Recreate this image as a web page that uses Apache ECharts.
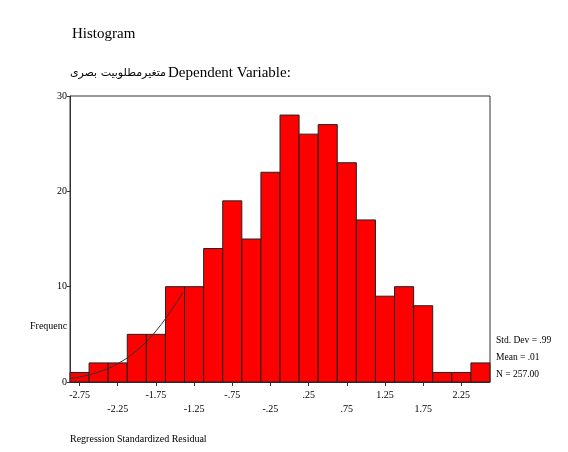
<!DOCTYPE html>
<html>
<head>
<meta charset="utf-8">
<script src="https://cdn.jsdelivr.net/npm/echarts@6/dist/echarts.min.js"></script>
<style>html,body{margin:0;padding:0;background:#fff;}#c{width:568px;height:452px;}</style>
</head>
<body>
<div id="c"></div>
<script>
const binWidth = 0.25;
const binCenters = [-2.75,-2.5,-2.25,-2.0,-1.75,-1.5,-1.25,-1.0,-0.75,-0.5,-0.25,0,0.25,0.5,0.75,1.0,1.25,1.5,1.75,2.0,2.25,2.5];
const frequencies = [1,2,2,5,5,10,10,14,19,15,22,28,26,27,23,17,9,10,8,1,1,2];
const tickValues = [-2.75,-2.25,-1.75,-1.25,-0.75,-0.25,0.25,0.75,1.25,1.75,2.25];
const tickLabels = ['-2.75','-2.25','-1.75','-1.25','-.75','-.25','.25','.75','1.25','1.75','2.25'];
const yTicks = [0,10,20,30];
const curveX = [-2.875,-2.75,-2.5,-2.25,-2.0,-1.75,-1.5,-1.4];
const curveY = [0.37,0.53,1.04,1.92,3.30,5.34,8.09,9.38];
const statsLines = ['Std. Dev = .99','Mean = .01','N = 257.00'];

const serif = '"Liberation Serif","DejaVu Serif",serif';
const chart = echarts.init(document.getElementById('c'), null, {renderer:'canvas'});
const barData = binCenters.map((x,i)=>[x, frequencies[i]]);
const curveData = curveX.map((x,i)=>[x, curveY[i]]);

chart.setOption({
  backgroundColor:'#fff',
  animation:false,
  graphic:[
    {type:'text', left:72, top:27, z:10, style:{text:'Histogram', font:'15px '+serif, fill:'#000'}},
    {type:'text', left:168, top:66, z:10, style:{text:'Dependent Variable:', font:'15px '+serif, fill:'#000'}},
    {type:'text', right:568-166, top:68, z:10, style:{text:'متغیرمطلوبیت بصری', font:'11px "DejaVu Sans",sans-serif', fill:'#000', align:'right'}},
    {type:'text', left:30, top:321, z:10, style:{text:'Frequency', font:'10px '+serif, fill:'#000', width:40, overflow:'truncate', ellipsis:''}},
    {type:'text', left:496, top:332, z:10, style:{text:statsLines.join('\n'), font:'9.5px '+serif, fill:'#000', lineHeight:17}},
    {type:'text', left:70, top:434, z:10, style:{text:'Regression Standardized Residual', font:'10px '+serif, fill:'#000'}}
  ],
  grid:{left:70, right:78, top:96, bottom:70, show:true, backgroundColor:'#fff', borderColor:'#333', borderWidth:1},
  xAxis:{
    type:'value', min:-2.875, max:2.625,
    splitLine:{show:false},
    axisLine:{show:true, onZero:false, lineStyle:{color:'#333'}},
    axisTick:{show:true, customValues:tickValues, length:4, lineStyle:{color:'#333'}},
    axisLabel:{
      customValues:tickValues, margin:6, color:'#000', fontFamily:serif, fontSize:10, lineHeight:14,
      formatter:function(v){
        const i = tickValues.findIndex(t=>Math.abs(t-v)<1e-6);
        if(i<0) return '';
        return i%2 ? '\n'+tickLabels[i] : tickLabels[i];
      }
    }
  },
  yAxis:{
    type:'value', min:0, max:30, interval:10,
    splitLine:{show:false},
    axisLine:{show:true, onZero:false, lineStyle:{color:'#333'}},
    axisTick:{show:true, length:3, lineStyle:{color:'#333'}},
    axisLabel:{margin:3, color:'#000', fontFamily:serif, fontSize:10,
      formatter:function(v){ return yTicks.indexOf(v)>=0 ? String(v) : ''; }}
  },
  series:[
    {
      type:'custom', data:barData, z:2,
      renderItem:function(params, api){
        const x = api.value(0), y = api.value(1);
        const p1 = api.coord([x - binWidth/2, y]);
        const p2 = api.coord([x + binWidth/2, 0]);
        return {type:'rect', shape:{x:p1[0], y:p1[1], width:p2[0]-p1[0], height:p2[1]-p1[1]},
          style:{fill:'#ff0000', stroke:'#222', lineWidth:1}};
      }
    },
    {
      type:'line', data:curveData, smooth:0.4, showSymbol:false, z:5,
      lineStyle:{color:'#333', width:1}
    }
  ]
});
</script>
</body>
</html>
